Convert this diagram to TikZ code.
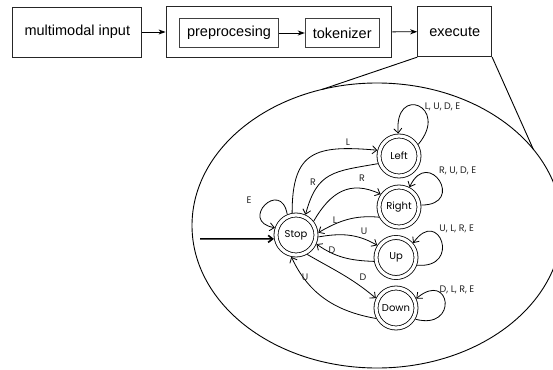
\documentclass[tikz,border=0pt]{standalone}
\usepackage{fontspec}
\setmainfont{Liberation Sans}
\newfontfamily\fsmfont{Poppins}
\usetikzlibrary{arrows.meta,shapes.geometric}
\begin{document}
\begin{tikzpicture}[x=1pt,y=-1pt,
  box/.style={draw=black!85, line width=0.9pt, inner sep=0pt, font=\fontsize{14.5}{16}\selectfont},
  innerbox/.style={draw=black!75, line width=0.8pt, inner sep=0pt, font=\fontsize{14.5}{16}\selectfont},
  toparrow/.style={line width=0.9pt, -{Stealth[length=7pt,width=5pt,inset=2pt]}},
  fsmstate/.style={circle, draw, double, double distance=3.2pt, line width=0.8pt, minimum size=40pt, inner sep=0pt, outer sep=2.4pt, font=\fsmfont\fontsize{10}{12}\selectfont},
  fsmedge/.style={line width=0.8pt, -{Straight Barb[length=4.5pt,width=8pt]}},
  initarrow/.style={line width=1.6pt, -{Straight Barb[length=4.5pt,width=7pt]}},
  lbl/.style={font=\fsmfont\fontsize{9.5}{11}\selectfont, text=black!85, inner sep=0pt}
]
\useasboundingbox (0,0) rectangle (553,369);

% top pipeline
\node[box, minimum width=129pt, minimum height=50pt] (inp) at (77.3,32) {multimodal input};
\node[draw=black!85, line width=1.8pt, minimum width=225pt, minimum height=51pt, inner sep=0pt] (grp) at (279,32) {};
\node[innerbox, minimum width=99.5pt, minimum height=29.5pt] (pre) at (229,33) {preprocesing};
\node[innerbox, minimum width=74pt, minimum height=29.5pt] (tok) at (342.2,33) {tokenizer};
\node[box, minimum width=74pt, minimum height=50pt] (exe) at (454.7,31.7) {execute};
\draw[toparrow] (inp) -- (grp);
\draw[toparrow] (pre) -- (tok);
\draw[toparrow] (grp) -- (exe);

% zoom ellipse
\node[ellipse, draw, line width=0.9pt, minimum width=370pt, minimum height=285pt, inner sep=0pt, outer sep=0pt] (zoomview) at (377,225.5) {};
\draw[line width=0.9pt] (exe.south west) -- (zoomview.112);
\draw[line width=0.9pt] (exe.south east) -- (zoomview.26);

% states
\node[fsmstate] (S) at (296,235) {Stop};
\node[fsmstate] (Lf) at (399,156) {Left};
\node[fsmstate] (Rt) at (399,207) {Right};
\node[fsmstate] (Up) at (396,257.5) {Up};
\node[fsmstate] (Dn) at (396,308) {Down};

\coordinate (init) at (200,238.9);
\draw[initarrow] (init) -- (S.190);

% transitions
\draw[fsmedge] (S.100) to[out=90,in=175,looseness=1.5] (Lf.165);
\draw[fsmedge] (Lf.200) to[out=190,in=75,looseness=1.3] (S.65);
\draw[fsmedge] (S.38) to[out=60,in=155,looseness=1.2] (Rt.145);
\draw[fsmedge] (Rt.207) to[out=175,in=30] (S.6);
\draw[fsmedge] (S.-5) to[out=10,in=150] (Up.147);
\draw[fsmedge] (Up.190) to[out=178,in=-35] (S.-24);
\draw[fsmedge] (S.-60) to[out=-30,in=140] (Dn.154);
\draw[fsmedge] (Dn.208) to[out=170,in=-65] (S.258);

% self loops
\draw[fsmedge] (S.113) .. controls +(100:37pt) and +(170:37pt) .. (S.161);
\draw[fsmedge] (Lf.31) .. controls +(50:50pt) and +(95:50pt) .. (Lf.92);
\draw[fsmedge] (Rt.5) .. controls +(0:45pt) and +(65:45pt) .. (Rt.62);
\draw[fsmedge] (Up.-20) .. controls +(-5:45pt) and +(55:45pt) .. (Up.40);
\draw[fsmedge] (Dn.-30) .. controls +(-15:45pt) and +(40:45pt) .. (Dn.25);

% labels
\node[lbl] (lL1) at (348,142) {L};
\node[lbl] (lR1) at (313,182) {R};
\node[lbl] (lR2) at (362,178) {R};
\node[lbl] (lL2) at (335,220) {L};
\node[lbl] (lU1) at (364,231) {U};
\node[lbl] (lD1) at (332,250) {D};
\node[lbl] (lD2) at (363,277) {D};
\node[lbl] (lU2) at (305,277) {U};
\node[lbl] (lE) at (249,200) {E};
\node[lbl] (loopL) at (442.5,106.5) {L, U, D, E};
\node[lbl] (loopR) at (457.7,170.7) {R, U, D, E};
\node[lbl] (loopU) at (456.7,229.3) {U, L, R, E};
\node[lbl] (loopD) at (457,290) {D, L, R, E};
\end{tikzpicture}
\end{document}
